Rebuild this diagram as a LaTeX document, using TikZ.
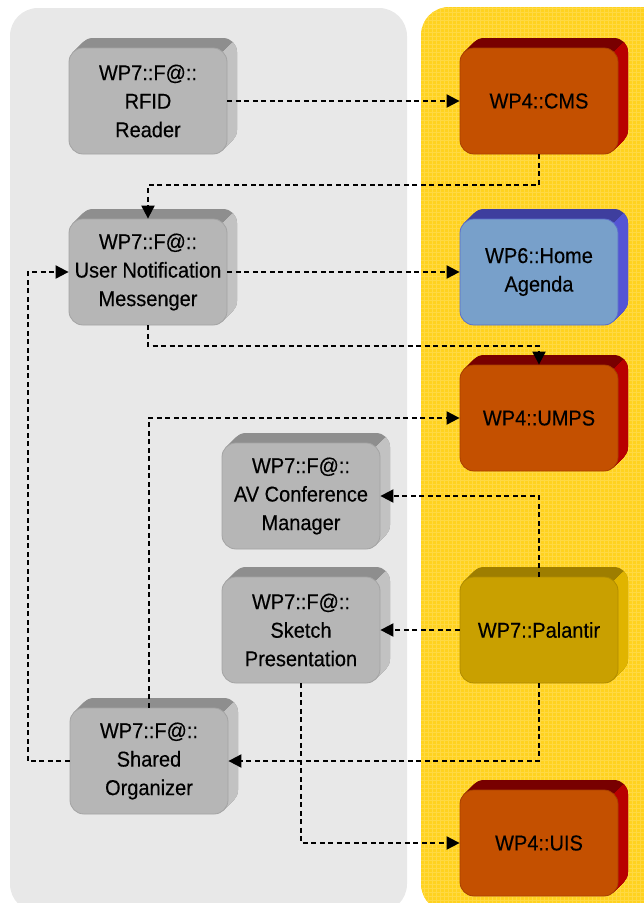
\documentclass[tikz,border=0pt]{standalone}
\usepackage{fontspec}
\setmainfont{Liberation Sans}[FakeStretch=0.93,FakeBold=0.3]
\usetikzlibrary{arrows.meta}
\definecolor{panelgray}{HTML}{E8E8E8}
\definecolor{panelyel}{HTML}{FFD21F}
\definecolor{gridyel}{HTML}{FFD943}
\definecolor{grayF}{HTML}{B6B6B6}
\definecolor{grayT}{HTML}{8E8E8E}
\definecolor{grayS}{HTML}{C2C2C2}
\definecolor{grayD}{HTML}{A4A4A4}
\definecolor{orF}{HTML}{C45000}
\definecolor{orT}{HTML}{780000}
\definecolor{orS}{HTML}{B80000}
\definecolor{orD}{HTML}{A84000}
\definecolor{blF}{HTML}{78A0CA}
\definecolor{blT}{HTML}{3E3E9E}
\definecolor{blS}{HTML}{5454D4}
\definecolor{blD}{HTML}{5A6ECC}
\definecolor{goF}{HTML}{C9A000}
\definecolor{goT}{HTML}{9E7E00}
\definecolor{goS}{HTML}{E0B400}
\definecolor{goD}{HTML}{B08C00}
\tikzset{
  boxface/.style={rounded corners=14pt, minimum width=158pt, minimum height=106pt,
    inner sep=0pt, align=center, line width=0.8pt, text=black,
    font=\fontsize{21.5}{28.5}\selectfont},
  conn/.style={draw=black, line width=2pt, dash pattern=on 5pt off 3.5pt,
    -{Triangle[length=13pt,width=13pt]}}
}
\newcommand{\tdbox}[5]{%
  \foreach \i in {0.5,1,...,10} {\fill[#4T, rounded corners=14pt] ({#2+\i},{#3-\i}) rectangle ++(158,106);}
  \begin{scope}
    \clip ({#2+158-4-40},{#3+4+40}) -- ({#2+158-4+40},{#3+4-40}) -- ({#2+158-4+40},{#3+400}) -- ({#2+158-4-40},{#3+400}) -- cycle;
    \foreach \i in {0.5,1,...,10} {\fill[#4S, rounded corners=14pt] ({#2+\i},{#3-\i}) rectangle ++(158,106);}
  \end{scope}
  \node[boxface, fill=#4F, draw=#4D] (#1) at ({#2+79},{#3+53}) {#5};
}
\begin{document}
\begin{tikzpicture}[x=1pt,y=-1pt]
\useasboundingbox (0,0) rectangle (644,903);
% panels
\fill[panelgray, rounded corners=28pt] (10,8) rectangle (407,912);
\begin{scope}
  \clip[rounded corners=28pt] (421,7) rectangle (680,912);
  \fill[panelyel] (421,7) rectangle (680,912);
  \draw[gridyel, line width=0.5pt, step=4pt] (420,0) grid (680,912);
\end{scope}
% boxes
\tdbox{rfid}{69}{48}{gray}{WP7::F@::\\RFID\\Reader}
\tdbox{cms}{460}{48}{or}{WP4::CMS}
\tdbox{un}{69}{219}{gray}{WP7::F@::\\User Notification\\Messenger}
\tdbox{home}{460}{219}{bl}{WP6::Home\\Agenda}
\tdbox{umps}{460}{365}{or}{WP4::UMPS}
\tdbox{av}{222}{443}{gray}{WP7::F@::\\AV Conference\\Manager}
\tdbox{sketch}{222}{577}{gray}{WP7::F@::\\Sketch\\Presentation}
\tdbox{pal}{460}{577}{go}{WP7::Palantir}
\tdbox{shared}{70}{708}{gray}{WP7::F@::\\Shared\\Organizer}
\tdbox{uis}{460}{790}{or}{WP4::UIS}
% connectors
\draw[conn] (rfid.east) -- (cms.west);
\draw[conn] (cms.south) -- ++(0,31) -| (un.north);
\draw[conn] (un.east) -- (home.west);
\draw[conn] (un.south) -- ++(0,21) -| (umps.north);
\draw[conn] (shared.north) |- (umps.west);
\draw[conn] (pal.north) |- (av.east);
\draw[conn] (pal.west) -- (sketch.east);
\draw[conn] (pal.south) |- (shared.east);
\draw[conn] (shared.west) -- ++(-42,0) |- (un.west);
\draw[conn] (sketch.south) |- (uis.west);
\end{tikzpicture}
\end{document}
